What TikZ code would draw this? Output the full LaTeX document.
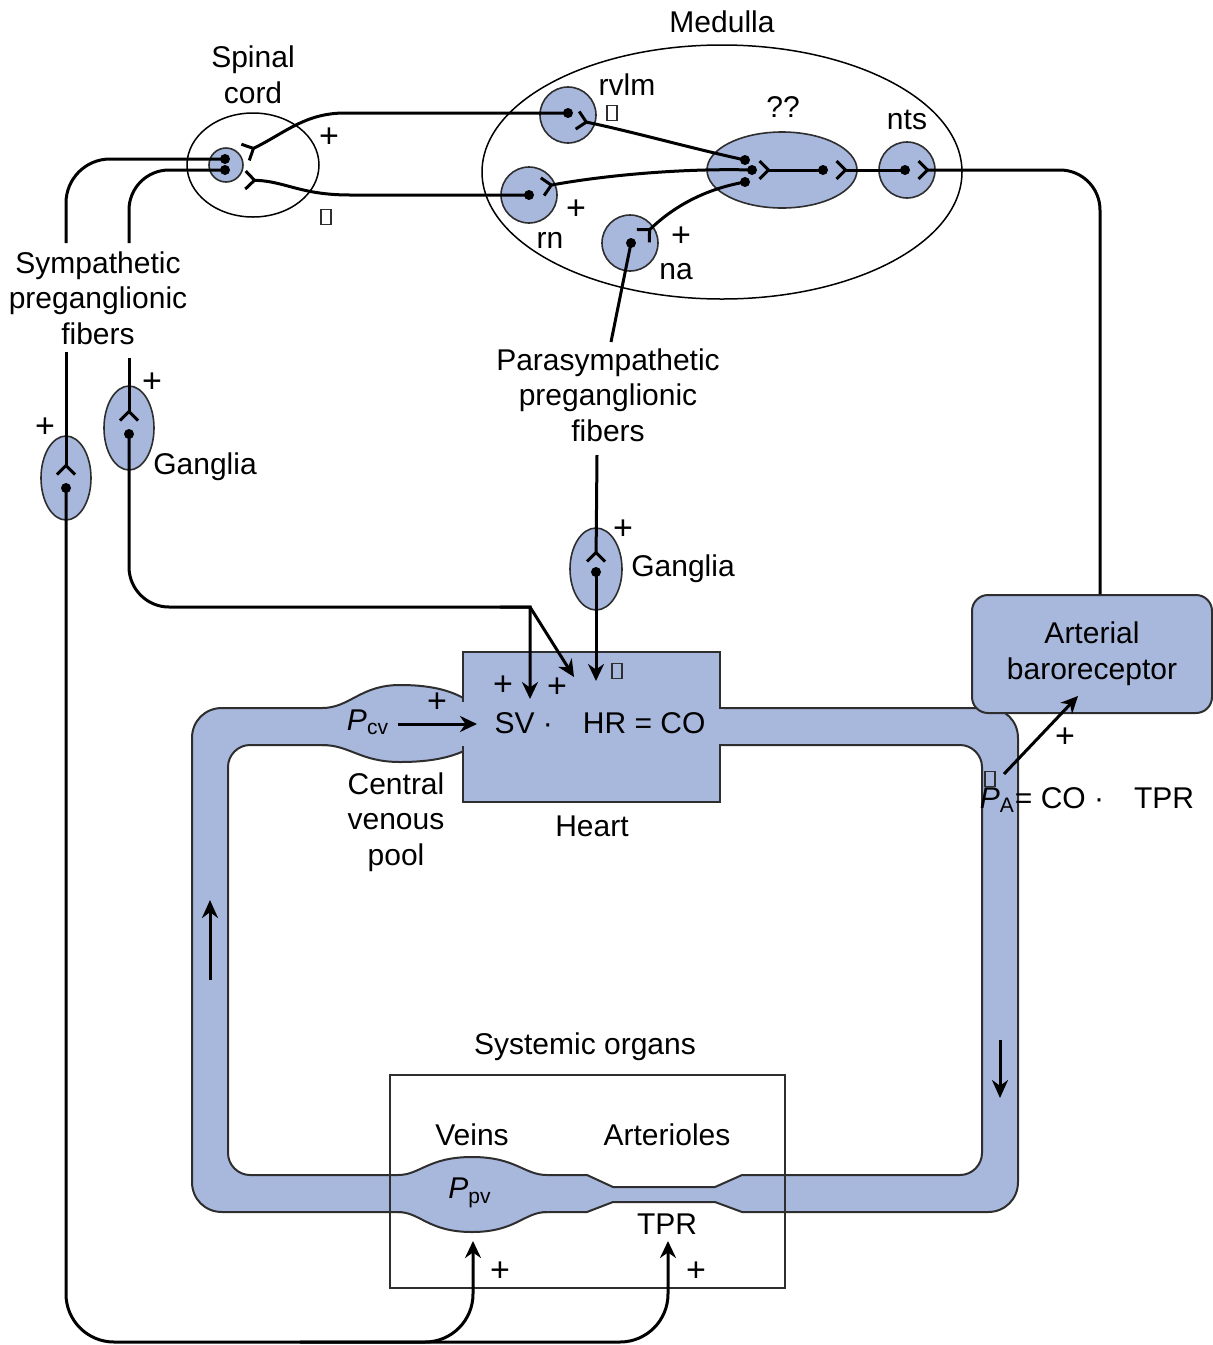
\documentclass[tikz,border=0pt]{standalone}
\usepackage{fontspec}
\setmainfont{Liberation Sans}
\usetikzlibrary{arrows.meta,positioning,calc,shapes.geometric}
\definecolor{organ}{HTML}{A8B7DC}
\definecolor{edge}{HTML}{2E2E2E}
\tikzset{
  lbl/.style={font=\fontsize{15}{17.8}\selectfont, align=center, inner sep=1pt},
  plussign/.style={font=\fontsize{17}{20}\selectfont, inner sep=0pt},
  minusbox/.style={draw=edge, line width=0.6pt, minimum width=5pt, minimum height=7.5pt, inner sep=0pt},
  neuron/.style={circle, draw=edge, fill=organ, line width=0.8pt, minimum size=28pt, inner sep=0pt},
  ganglion/.style={ellipse, draw=edge, fill=organ, line width=0.8pt, minimum width=25pt, minimum height=42pt, inner sep=0pt},
  soma/.style={circle, fill=black, minimum size=5pt, inner sep=0pt},
  organbox/.style={draw=edge, fill=organ, line width=1pt, inner sep=0pt},
  fiber/.style={line width=1.5pt},
  syn/.style={fiber, -{Straight Barb[reversed, length=4.5pt, width=9pt]}},
  act/.style={fiber, -{Stealth[length=8.5pt, width=8pt]}},
  flow/.style={line width=1.5pt, -{Stealth[length=9pt, width=8pt]}}}

\begin{document}
\begin{tikzpicture}[x=0.5pt, y=-0.5pt]
\useasboundingbox (0,0) rectangle (1213,1345);

% circulation loop
\path[fill=organ, draw=edge, line width=1pt, even odd rule, line join=round]
  (222,708) -- (988,708) .. controls (1005,708) and (1018,721) .. (1018,738)
  -- (1018,1182) .. controls (1018,1199) and (1005,1212) .. (988,1212)
  -- (742,1212) -- (715,1202) -- (613,1202) -- (587,1212)
  -- (222,1212) .. controls (205,1212) and (192,1199) .. (192,1182)
  -- (192,738) .. controls (192,721) and (205,708) .. (222,708) -- cycle
  (250,745) -- (960,745) .. controls (972,745) and (982,755) .. (982,767)
  -- (982,1153) .. controls (982,1165) and (972,1175) .. (960,1175)
  -- (742,1175) -- (715,1187) -- (613,1187) -- (587,1175)
  -- (250,1175) .. controls (238,1175) and (228,1165) .. (228,1153)
  -- (228,767) .. controls (228,755) and (238,745) .. (250,745) -- cycle;

% central venous pool
\fill[organ] (322,708) .. controls (350,708) and (360,685) .. (400,685)
  .. controls (435,685) and (455,692) .. (470,702) -- (470,748)
  .. controls (455,756) and (435,762) .. (400,762)
  .. controls (360,762) and (350,745) .. (322,745) -- cycle;
\draw[edge, line width=1pt] (322,708) .. controls (350,708) and (360,685) .. (400,685)
  .. controls (435,685) and (455,692) .. (470,702);
\draw[edge, line width=1pt] (322,745) .. controls (350,745) and (360,762) .. (400,762)
  .. controls (435,762) and (455,756) .. (470,748);

% heart
\node[organbox, minimum width=128.5pt, minimum height=75pt] (heart) at (591.5,727) {};
\fill[organ] (459,702) rectangle (467,745.5);
\fill[organ] (716,709.4) rectangle (724,743.6);

% veins
\fill[organ] (398,1175) .. controls (420,1175) and (428,1157) .. (472,1157)
  .. controls (516,1157) and (524,1175) .. (547,1175) -- (547,1212)
  .. controls (524,1212) and (516,1232) .. (472,1232)
  .. controls (428,1232) and (420,1212) .. (398,1212) -- cycle;
\draw[edge, line width=1pt] (398,1175) .. controls (420,1175) and (428,1157) .. (472,1157)
  .. controls (516,1157) and (524,1175) .. (547,1175);
\draw[edge, line width=1pt] (398,1212) .. controls (420,1212) and (428,1232) .. (472,1232)
  .. controls (516,1232) and (524,1212) .. (547,1212);

% systemic organs and baroreceptor
\node[draw=edge, line width=0.75pt, minimum width=197.5pt, minimum height=106.5pt, inner sep=0pt] (organs) at (587.5,1181.5) {};
\node[organbox, rounded corners=8pt, minimum width=120pt, minimum height=59pt, lbl] (baro) at (1092,654) {Arterial\\baroreceptor};

% medulla and spinal cord
\node[ellipse, draw, line width=0.75pt, minimum width=240pt, minimum height=127pt, inner sep=0pt] (medulla) at (722,172) {};
\node[ellipse, draw, line width=0.75pt, minimum width=66pt, minimum height=52pt, inner sep=0pt] (cord) at (253,165) {};
\node[neuron, minimum size=17pt] (scn) at (226,165) {};
\node[neuron] (rvlm) at (568,115) {};
\node[neuron] (rn) at (529,195) {};
\node[neuron] (na) at (630,243) {};
\node[neuron] (nts) at (907,170) {};
\node[ellipse, draw=edge, fill=organ, line width=0.8pt, minimum width=75pt, minimum height=38pt, inner sep=0pt] (qq) at (782,170) {};
\node[ganglion] (gang-o) at (66,478) {};
\node[ganglion] (gang-i) at (129,428) {};
\node[ganglion, minimum width=26pt, minimum height=41pt] (gang-p) at (596,569) {};

% cell bodies
\node[soma] (scn-a) at (225,159) {};
\node[soma] (scn-b) at (225,170) {};
\node[soma] (rvlm-s) at (568,113) {};
\node[soma] (rn-s) at (529,195) {};
\node[soma] (na-s) at (631,243) {};
\node[soma] (qq-a) at (745,160) {};
\node[soma] (qq-b) at (752,170) {};
\node[soma] (qq-c) at (745,182) {};
\node[soma] (qq-d) at (823,170) {};
\node[soma] (nts-s) at (905,170) {};
\node[soma] (gang-o-s) at (66,488) {};
\node[soma] (gang-i-s) at (129,434) {};
\node[soma] (gang-p-s) at (596,572) {};

% terminals and free ends
\coordinate (sc-t1) at (244,153);
\coordinate (sc-t2) at (244,180);
\coordinate (rvlm-t) at (576,120);
\coordinate (rn-t) at (541,187);
\coordinate (na-t) at (642,237);
\coordinate (qq-t) at (758,170);
\coordinate (qq2-t) at (835,170);
\coordinate (nts-t) at (917,170);
\coordinate (gang-o-t) at (66,476);
\coordinate (gang-i-t) at (129,422);
\coordinate (gang-p-t) at (596,563);
\coordinate (symp-o) at (66,243);
\coordinate (symp-i) at (129,243);
\coordinate (symp-o2) at (66,352);
\coordinate (symp-i2) at (129,358);
\coordinate (para-top) at (611,342);
\coordinate (para-bot) at (597,455);
\coordinate (symp-split) at (530,607);
\coordinate (sv-tip) at (530,699);
\coordinate (hr-tip) at (574,677);
\coordinate (para-tip) at (596,681);
\coordinate (pcv-out) at (398,724);
\coordinate (heart-in) at (477,724);
\coordinate (pa-base) at (1004,774);
\coordinate (baro-in) at (1078,696);
\coordinate (ppv-tip) at (473,1241);
\coordinate (tpr-tip) at (668,1241);

% central pathways
\draw[syn] (rvlm-s.center) -- (345,113) .. controls (305,113) and (285,133) .. (sc-t1);
\draw[syn] (rn-s.center) -- (350,195) .. controls (300,195) and (285,181) .. (sc-t2);
\draw[syn] (qq-a.center) .. controls (690,148) and (630,131) .. (rvlm-t);
\draw[syn] (qq-b.center) .. controls (680,168) and (600,176) .. (rn-t);
\draw[syn] (qq-c.center) .. controls (700,190) and (670,210) .. (na-t);
\draw[syn] (qq-d.center) -- (qq-t);
\draw[syn] (nts-s.center) -- (qq2-t);
\draw[syn, rounded corners=20pt] ([xshift=4pt]baro.north) |- (nts-t);

% sympathetic outflow
\draw[fiber, rounded corners=22pt] (scn-a.center) -| (symp-o);
\draw[fiber, rounded corners=20pt] (scn-b.center) -| (symp-i);
\draw[syn] (symp-o2) -- (gang-o-t);
\draw[syn] (symp-i2) -- (gang-i-t);
\draw[act, rounded corners=24pt] (gang-o-s.center) -- (66,1342) -- (668,1342) -- (tpr-tip);
\draw[act, rounded corners=24pt] (300,1342) -| (ppv-tip);
\draw[act] (gang-i-s.center) -- (129,567) .. controls (129,589) and (147,607) .. (169,607)
  -- (symp-split) -- (sv-tip);
\draw[act] (500,607) -- (symp-split) -- (hr-tip);

% parasympathetic outflow
\draw[fiber] (na-s.center) -- (para-top);
\draw[syn] (para-bot) -- (gang-p-t);
\draw[act] (gang-p-s.center) -- (para-tip);

% labels
\node[lbl] (medulla-lbl) at (722,22) {Medulla};
\node[lbl] (cord-lbl) at (253,75) {Spinal\\cord};
\node[lbl] (rvlm-lbl) at (627,85) {rvlm};
\node[lbl] (qq-lbl) at (783,107) {??};
\node[lbl] (nts-lbl) at (907,120) {nts};
\node[lbl] (rn-lbl) at (550,240) {rn};
\node[lbl] (na-lbl) at (676,272) {na};
\node[lbl] (symp-lbl) at (98,298) {Sympathetic\\preganglionic\\fibers};
\node[lbl] (gang-lbl1) at (205,467) {Ganglia};
\node[lbl] (para-lbl) at (608,395) {Parasympathetic\\preganglionic\\fibers};
\node[lbl] (gang-lbl2) at (683,569) {Ganglia};
\node[lbl] (pcv) at (368,722) {\itshape P\textsubscript{\upshape cv}};
\node[lbl] (co-eq) at (600,723) {SV ·\quad HR = CO};
\node[lbl] (heart-lbl) at (592,826) {Heart};
\node[lbl] (pool-lbl) at (396,822) {Central\\venous\\pool};
\node[lbl] (pa-eq) at (1087,800) {\itshape P\textsubscript{\upshape A}\upshape = CO ·\quad TPR};
\node[lbl] (organs-lbl) at (585,1047) {Systemic organs};
\node[lbl] (veins-lbl) at (472,1135) {Veins};
\node[lbl] (art-lbl) at (667,1135) {Arterioles};
\node[lbl] (ppv) at (470,1193) {\itshape P\textsubscript{\upshape pv}};
\node[lbl] (tpr-lbl) at (667,1224) {TPR};

\draw[act] (pcv-out) -- (heart-in);
\draw[act] (pa-base) -- (baro-in);
\draw[flow] (210,980) -- (210,900);
\draw[flow] (1000,1040) -- (1000,1098);

% signs
\node[plussign] (p1) at (329,138) {+};
\node[plussign] (p2) at (576,210) {+};
\node[plussign] (p3) at (681,237) {+};
\node[plussign] (p4) at (152,383) {+};
\node[plussign] (p5) at (45,428) {+};
\node[plussign] (p6) at (623,530) {+};
\node[plussign] (p7) at (503,686) {+};
\node[plussign] (p8) at (557,688) {+};
\node[plussign] (p9) at (437,703) {+};
\node[plussign] (p10) at (1065,738) {+};
\node[plussign] (p11) at (500,1272) {+};
\node[plussign] (p12) at (696,1272) {+};
\node[minusbox] (m1) at (326,217) {};
\node[minusbox] (m2) at (612,113) {};
\node[minusbox] (m3) at (617,671) {};
\node[minusbox] (m4) at (990,779) {};
\end{tikzpicture}
\end{document}
